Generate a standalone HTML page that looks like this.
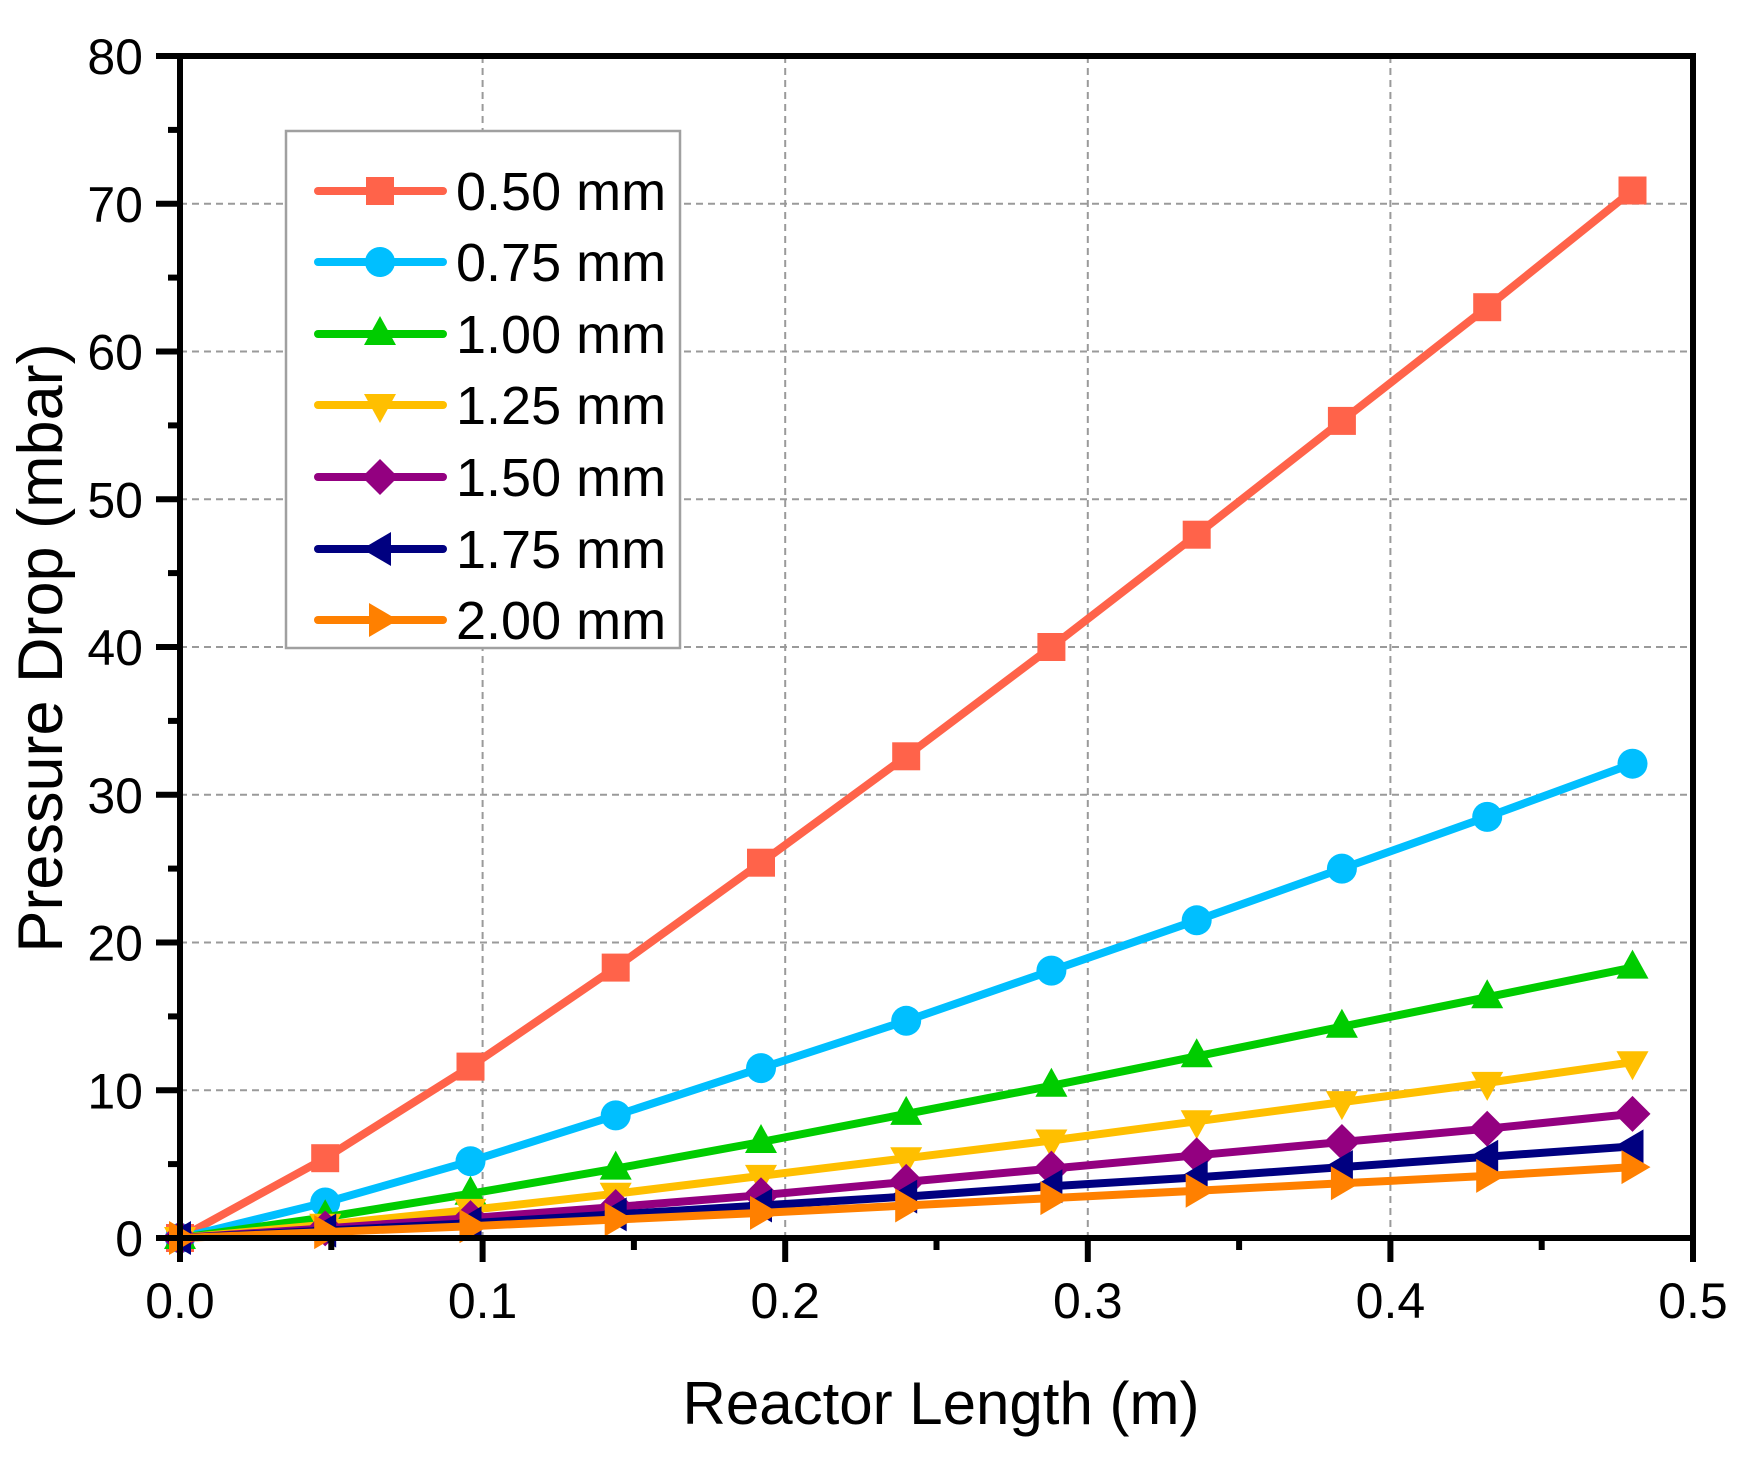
<!DOCTYPE html>
<html><head><meta charset="utf-8"><style>
html,body{margin:0;padding:0;background:#fff;}
svg{display:block;}
text{font-family:"Liberation Sans",Arial,sans-serif;fill:#000;}
</style></head><body>
<svg width="1750" height="1459" viewBox="0 0 1750 1459" xmlns="http://www.w3.org/2000/svg">
<defs>
<rect id="m1" x="-14" y="-14" width="28" height="28"/>
<circle id="m2" cx="0" cy="0" r="15"/>
<polygon id="m3" points="0,-18 16,11 -16,11"/>
<polygon id="m4" points="0,18 16,-11 -16,-11"/>
<polygon id="m5" points="0,-18 18,0 0,18 -18,0"/>
<polygon id="m6" points="-18,0 11,-17 11,17"/>
<polygon id="m7" points="18,0 -11,-17 -11,17"/>
</defs>
<g stroke="#9a9a9a" stroke-width="2" stroke-dasharray="7,5" fill="none">
<line x1="482.6" y1="56" x2="482.6" y2="1238"/>
<line x1="785.2" y1="56" x2="785.2" y2="1238"/>
<line x1="1087.8" y1="56" x2="1087.8" y2="1238"/>
<line x1="1390.4" y1="56" x2="1390.4" y2="1238"/>
<line x1="180" y1="1090.25" x2="1693" y2="1090.25"/>
<line x1="180" y1="942.5" x2="1693" y2="942.5"/>
<line x1="180" y1="794.75" x2="1693" y2="794.75"/>
<line x1="180" y1="647" x2="1693" y2="647"/>
<line x1="180" y1="499.25" x2="1693" y2="499.25"/>
<line x1="180" y1="351.5" x2="1693" y2="351.5"/>
<line x1="180" y1="203.75" x2="1693" y2="203.75"/>
</g>
<g stroke-width="8" fill="none" stroke-linejoin="round" stroke-linecap="round">
<polyline stroke="#FF634A" points="180,1238 325.2,1158.2 470.5,1066.6 615.7,967.6 761,862.7 906.2,756.3 1051.4,647 1196.7,534.7 1341.9,420.9 1487.2,307.2 1632.5,190.5"/>
</g>
<g fill="#FF634A"><use href="#m1" x="180" y="1238"/><use href="#m1" x="325.2" y="1158.2"/><use href="#m1" x="470.5" y="1066.6"/><use href="#m1" x="615.7" y="967.6"/><use href="#m1" x="761" y="862.7"/><use href="#m1" x="906.2" y="756.3"/><use href="#m1" x="1051.4" y="647"/><use href="#m1" x="1196.7" y="534.7"/><use href="#m1" x="1341.9" y="420.9"/><use href="#m1" x="1487.2" y="307.2"/><use href="#m1" x="1632.5" y="190.5"/></g>
<polyline stroke="#00BFFF" stroke-width="8" fill="none" stroke-linejoin="round" points="180,1238 325.2,1202.5 470.5,1161.2 615.7,1115.4 761,1068.1 906.2,1020.8 1051.4,970.6 1196.7,920.3 1341.9,868.6 1487.2,816.9 1632.5,763.7"/>
<g fill="#00BFFF"><use href="#m2" x="180" y="1238"/><use href="#m2" x="325.2" y="1202.5"/><use href="#m2" x="470.5" y="1161.2"/><use href="#m2" x="615.7" y="1115.4"/><use href="#m2" x="761" y="1068.1"/><use href="#m2" x="906.2" y="1020.8"/><use href="#m2" x="1051.4" y="970.6"/><use href="#m2" x="1196.7" y="920.3"/><use href="#m2" x="1341.9" y="868.6"/><use href="#m2" x="1487.2" y="816.9"/><use href="#m2" x="1632.5" y="763.7"/></g>
<polyline stroke="#00CC00" stroke-width="8" fill="none" stroke-linejoin="round" points="180,1238 325.2,1217.3 470.5,1193.7 615.7,1168.6 761,1142 906.2,1113.9 1051.4,1085.8 1196.7,1056.3 1341.9,1026.7 1487.2,997.2 1632.5,967.6"/>
<g fill="#00CC00"><use href="#m3" x="180" y="1238"/><use href="#m3" x="325.2" y="1217.3"/><use href="#m3" x="470.5" y="1193.7"/><use href="#m3" x="615.7" y="1168.6"/><use href="#m3" x="761" y="1142"/><use href="#m3" x="906.2" y="1113.9"/><use href="#m3" x="1051.4" y="1085.8"/><use href="#m3" x="1196.7" y="1056.3"/><use href="#m3" x="1341.9" y="1026.7"/><use href="#m3" x="1487.2" y="997.2"/><use href="#m3" x="1632.5" y="967.6"/></g>
<polyline stroke="#FFBF00" stroke-width="8" fill="none" stroke-linejoin="round" points="180,1238 325.2,1224.7 470.5,1209.9 615.7,1193.7 761,1175.9 906.2,1158.2 1051.4,1140.5 1196.7,1121.3 1341.9,1102.1 1487.2,1082.9 1632.5,1062.2"/>
<g fill="#FFBF00"><use href="#m4" x="180" y="1238"/><use href="#m4" x="325.2" y="1224.7"/><use href="#m4" x="470.5" y="1209.9"/><use href="#m4" x="615.7" y="1193.7"/><use href="#m4" x="761" y="1175.9"/><use href="#m4" x="906.2" y="1158.2"/><use href="#m4" x="1051.4" y="1140.5"/><use href="#m4" x="1196.7" y="1121.3"/><use href="#m4" x="1341.9" y="1102.1"/><use href="#m4" x="1487.2" y="1082.9"/><use href="#m4" x="1632.5" y="1062.2"/></g>
<polyline stroke="#930080" stroke-width="8" fill="none" stroke-linejoin="round" points="180,1238 325.2,1228.4 470.5,1218.1 615.7,1207 761,1195.2 906.2,1181.9 1051.4,1168.6 1196.7,1155.3 1341.9,1142 1487.2,1128.7 1632.5,1113.9"/>
<g fill="#930080"><use href="#m5" x="180" y="1238"/><use href="#m5" x="325.2" y="1228.4"/><use href="#m5" x="470.5" y="1218.1"/><use href="#m5" x="615.7" y="1207"/><use href="#m5" x="761" y="1195.2"/><use href="#m5" x="906.2" y="1181.9"/><use href="#m5" x="1051.4" y="1168.6"/><use href="#m5" x="1196.7" y="1155.3"/><use href="#m5" x="1341.9" y="1142"/><use href="#m5" x="1487.2" y="1128.7"/><use href="#m5" x="1632.5" y="1113.9"/></g>
<polyline stroke="#000080" stroke-width="8" fill="none" stroke-linejoin="round" points="180,1238 325.2,1230.6 470.5,1223.2 615.7,1214.4 761,1205.5 906.2,1196.6 1051.4,1186.3 1196.7,1177.4 1341.9,1167.1 1487.2,1156.7 1632.5,1146.4"/>
<g fill="#000080"><use href="#m6" x="180" y="1238"/><use href="#m6" x="325.2" y="1230.6"/><use href="#m6" x="470.5" y="1223.2"/><use href="#m6" x="615.7" y="1214.4"/><use href="#m6" x="761" y="1205.5"/><use href="#m6" x="906.2" y="1196.6"/><use href="#m6" x="1051.4" y="1186.3"/><use href="#m6" x="1196.7" y="1177.4"/><use href="#m6" x="1341.9" y="1167.1"/><use href="#m6" x="1487.2" y="1156.7"/><use href="#m6" x="1632.5" y="1146.4"/></g>
<polyline stroke="#FF8000" stroke-width="8" fill="none" stroke-linejoin="round" points="180,1238 325.2,1232.1 470.5,1226.2 615.7,1219.5 761,1212.9 906.2,1205.5 1051.4,1198.1 1196.7,1190.7 1341.9,1183.3 1487.2,1175.9 1632.5,1167.1"/>
<g fill="#FF8000"><use href="#m7" x="180" y="1238"/><use href="#m7" x="325.2" y="1232.1"/><use href="#m7" x="470.5" y="1226.2"/><use href="#m7" x="615.7" y="1219.5"/><use href="#m7" x="761" y="1212.9"/><use href="#m7" x="906.2" y="1205.5"/><use href="#m7" x="1051.4" y="1198.1"/><use href="#m7" x="1196.7" y="1190.7"/><use href="#m7" x="1341.9" y="1183.3"/><use href="#m7" x="1487.2" y="1175.9"/><use href="#m7" x="1632.5" y="1167.1"/></g>
<rect x="180" y="56" width="1513" height="1182" fill="none" stroke="#000" stroke-width="6"/>
<g stroke="#000" stroke-width="6">
<line x1="156" y1="56" x2="180" y2="56"/><line x1="156" y1="203.75" x2="180" y2="203.75"/><line x1="156" y1="351.5" x2="180" y2="351.5"/><line x1="156" y1="499.25" x2="180" y2="499.25"/><line x1="156" y1="647" x2="180" y2="647"/><line x1="156" y1="794.75" x2="180" y2="794.75"/><line x1="156" y1="942.5" x2="180" y2="942.5"/><line x1="156" y1="1090.25" x2="180" y2="1090.25"/><line x1="156" y1="1238" x2="180" y2="1238"/>
<line x1="168" y1="129.9" x2="180" y2="129.9"/><line x1="168" y1="277.6" x2="180" y2="277.6"/><line x1="168" y1="425.4" x2="180" y2="425.4"/><line x1="168" y1="573.1" x2="180" y2="573.1"/><line x1="168" y1="720.9" x2="180" y2="720.9"/><line x1="168" y1="868.6" x2="180" y2="868.6"/><line x1="168" y1="1016.4" x2="180" y2="1016.4"/><line x1="168" y1="1164.1" x2="180" y2="1164.1"/>
<line x1="180" y1="1238" x2="180" y2="1262"/><line x1="482.6" y1="1238" x2="482.6" y2="1262"/><line x1="785.2" y1="1238" x2="785.2" y2="1262"/><line x1="1087.8" y1="1238" x2="1087.8" y2="1262"/><line x1="1390.4" y1="1238" x2="1390.4" y2="1262"/><line x1="1693" y1="1238" x2="1693" y2="1262"/>
<line x1="331.3" y1="1238" x2="331.3" y2="1250"/><line x1="633.9" y1="1238" x2="633.9" y2="1250"/><line x1="936.5" y1="1238" x2="936.5" y2="1250"/><line x1="1239.1" y1="1238" x2="1239.1" y2="1250"/><line x1="1541.7" y1="1238" x2="1541.7" y2="1250"/>
</g>
<g font-size="50" text-anchor="end">
<text x="143" y="74">80</text><text x="143" y="221.75">70</text><text x="143" y="369.5">60</text><text x="143" y="517.25">50</text><text x="143" y="665">40</text><text x="143" y="812.75">30</text><text x="143" y="960.5">20</text><text x="143" y="1108.25">10</text><text x="143" y="1256">0</text>
</g>
<g font-size="50" text-anchor="middle">
<text x="180" y="1318">0.0</text><text x="482.6" y="1318">0.1</text><text x="785.2" y="1318">0.2</text><text x="1087.8" y="1318">0.3</text><text x="1390.4" y="1318">0.4</text><text x="1693" y="1318">0.5</text>
</g>
<text x="941" y="1424" font-size="60" text-anchor="middle">Reactor Length (m)</text>
<text transform="translate(62,648) rotate(-90)" font-size="63" text-anchor="middle">Pressure Drop (mbar)</text>
<rect x="286" y="131" width="394" height="517" fill="#fff" stroke="#a0a0a0" stroke-width="2.5"/>
<g stroke-width="8" stroke-linecap="round">
<line x1="318" y1="191" x2="443" y2="191" stroke="#FF634A"/>
<line x1="318" y1="262" x2="443" y2="262" stroke="#00BFFF"/>
<line x1="318" y1="334" x2="443" y2="334" stroke="#00CC00"/>
<line x1="318" y1="405" x2="443" y2="405" stroke="#FFBF00"/>
<line x1="318" y1="477" x2="443" y2="477" stroke="#930080"/>
<line x1="318" y1="549" x2="443" y2="549" stroke="#000080"/>
<line x1="318" y1="620" x2="443" y2="620" stroke="#FF8000"/>
</g>
<use href="#m1" x="380" y="191" fill="#FF634A"/>
<use href="#m2" x="380" y="262" fill="#00BFFF"/>
<use href="#m3" x="380" y="334" fill="#00CC00"/>
<use href="#m4" x="380" y="405" fill="#FFBF00"/>
<use href="#m5" x="380" y="477" fill="#930080"/>
<use href="#m6" x="380" y="549" fill="#000080"/>
<use href="#m7" x="380" y="620" fill="#FF8000"/>
<g font-size="54">
<text x="456" y="210">0.50 mm</text>
<text x="456" y="281">0.75 mm</text>
<text x="456" y="353">1.00 mm</text>
<text x="456" y="424">1.25 mm</text>
<text x="456" y="496">1.50 mm</text>
<text x="456" y="568">1.75 mm</text>
<text x="456" y="639">2.00 mm</text>
</g>
</svg>
</body></html>
